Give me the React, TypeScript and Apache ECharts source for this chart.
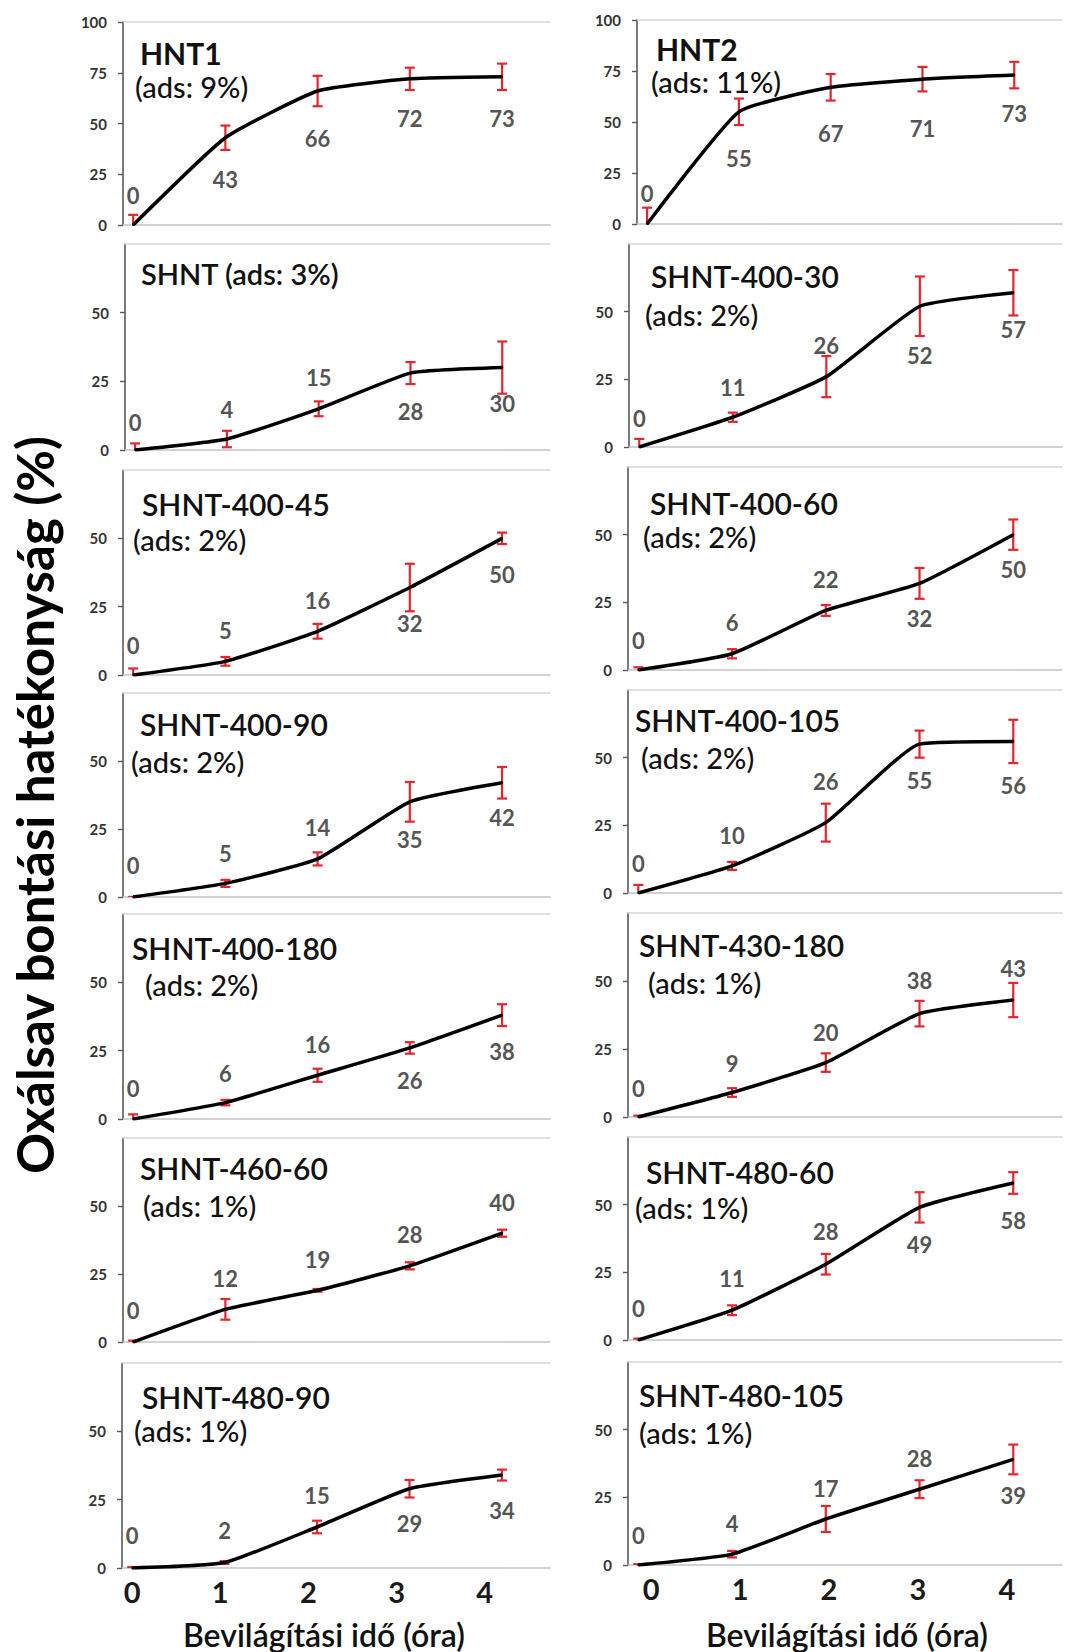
import React, { useEffect, useRef } from "react";
import * as echarts from "echarts";

// ---------- DATA ----------
const hours = [0, 1, 2, 3, 4];
const xTickValues = [0, 1, 2, 3, 4];
const yTitle = "Oxálsav bontási hatékonyság (%)";
const xTitle = "Bevilágítási idő (óra)";

const panelTitles = [
  "HNT1", "HNT2", "SHNT (ads: 3%)", "SHNT-400-30", "SHNT-400-45", "SHNT-400-60",
  "SHNT-400-90", "SHNT-400-105", "SHNT-400-180", "SHNT-430-180",
  "SHNT-460-60", "SHNT-480-60", "SHNT-480-90", "SHNT-480-105",
];
const adsLabels = [
  "(ads: 9%)", "(ads: 11%)", "", "(ads: 2%)", "(ads: 2%)", "(ads: 2%)",
  "(ads: 2%)", "(ads: 2%)", "(ads: 2%)", "(ads: 1%)",
  "(ads: 1%)", "(ads: 1%)", "(ads: 1%)", "(ads: 1%)",
];

const hnt1Values = [0, 43, 66, 72, 73];
const hnt1Errors = [5, 6, 7.5, 5.5, 6.5];
const hnt2Values = [0, 55, 67, 71, 73];
const hnt2Errors = [8, 6.5, 6.5, 6, 6.5];
const shntValues = [0, 4, 15, 28, 30];
const shntErrors = [2.4, 3, 2.7, 4, 9.5];
const s400_30Values = [0, 11, 26, 52, 57];
const s400_30Errors = [3, 1.7, 7.6, 11, 8.4];
const s400_45Values = [0, 5, 16, 32, 50];
const s400_45Errors = [2.4, 1.6, 2.7, 8.7, 2.1];
const s400_60Values = [0, 6, 22, 32, 50];
const s400_60Errors = [1, 1.7, 2, 5.7, 5.6];
const s400_90Values = [0, 5, 14, 35, 42];
const s400_90Errors = [0, 1.3, 2.4, 7.3, 5.8];
const s400_105Values = [0, 10, 26, 55, 56];
const s400_105Errors = [3, 1.5, 7, 5, 8];
const s400_180Values = [0, 6, 16, 26, 38];
const s400_180Errors = [1.7, 1, 2.4, 2.1, 4];
const s430_180Values = [0, 9, 20, 38, 43];
const s430_180Errors = [0.5, 1.6, 3.4, 4.7, 6.3];
const s460_60Values = [0, 12, 19, 28, 40];
const s460_60Errors = [0.5, 3.8, 0.5, 1.3, 1.3];
const s480_60Values = [0, 11, 28, 49, 58];
const s480_60Errors = [0.5, 1.8, 3.8, 5.6, 4];
const s480_90Values = [0, 2, 15, 29, 34];
const s480_90Errors = [0.3, 0.5, 2.3, 3.2, 2];
const s480_105Values = [0, 4, 17, 28, 39];
const s480_105Errors = [0.3, 1.2, 4.8, 3.3, 5.5];

const panelValues = [
  hnt1Values, hnt2Values, shntValues, s400_30Values, s400_45Values, s400_60Values,
  s400_90Values, s400_105Values, s400_180Values, s430_180Values,
  s460_60Values, s480_60Values, s480_90Values, s480_105Values,
];
const panelErrors = [
  hnt1Errors, hnt2Errors, shntErrors, s400_30Errors, s400_45Errors, s400_60Errors,
  s400_90Errors, s400_105Errors, s400_180Errors, s430_180Errors,
  s460_60Errors, s480_60Errors, s480_90Errors, s480_105Errors,
];
const panelMax = [100, 100, 75, 75, 75, 75, 75, 75, 75, 75, 75, 75, 75, 75];

// ---------- LAYOUT / STYLE ----------
const FONT = "Lato, 'Open Sans', sans-serif";
const RED = "#e3262e";
const W = 1065;
const H = 1652;

type PanelLayout = {
  left: number; right: number; top: number; bottom: number;
  titleX: number; titleDy: number; adsX: number; adsDy: number;
};
const L = 550;
const R = 1062;
const layout: PanelLayout[] = [
  { left: 123, right: L, top: 22, bottom: 225, titleX: 140, titleDy: 31, adsX: 135, adsDy: 64 },
  { left: 637, right: R, top: 20, bottom: 224, titleX: 656, titleDy: 29, adsX: 651, adsDy: 61 },
  { left: 125, right: L, top: 244, bottom: 450, titleX: 141, titleDy: 29, adsX: 0, adsDy: 0 },
  { left: 629, right: R, top: 244, bottom: 447, titleX: 651, titleDy: 32, adsX: 645, adsDy: 70 },
  { left: 123, right: L, top: 470, bottom: 675, titleX: 142, titleDy: 34, adsX: 133, adsDy: 69 },
  { left: 628, right: R, top: 467, bottom: 670, titleX: 650, titleDy: 36, adsX: 643, adsDy: 69 },
  { left: 123, right: L, top: 693, bottom: 897, titleX: 140, titleDy: 31, adsX: 131, adsDy: 68 },
  { left: 628, right: R, top: 690, bottom: 893, titleX: 635, titleDy: 30, adsX: 641, adsDy: 67 },
  { left: 123, right: L, top: 914, bottom: 1119, titleX: 132, titleDy: 34, adsX: 145, adsDy: 70 },
  { left: 628, right: R, top: 913, bottom: 1117, titleX: 639, titleDy: 32, adsX: 648, adsDy: 69 },
  { left: 123, right: L, top: 1138, bottom: 1342, titleX: 140, titleDy: 30, adsX: 143, adsDy: 67 },
  { left: 628, right: R, top: 1137, bottom: 1340, titleX: 646, titleDy: 35, adsX: 635, adsDy: 70 },
  { left: 122, right: L, top: 1363, bottom: 1568, titleX: 142, titleDy: 34, adsX: 134, adsDy: 67 },
  { left: 628, right: R, top: 1362, bottom: 1565, titleX: 639, titleDy: 33, adsX: 639, adsDy: 70 },
];

// vertical offset (px) of each value label from its point
const labelDy = [
  [-30, 42, 47, 40, 42],
  [-31, 47, 46, 49, 38],
  [-28, -30, -31, 38, 36],
  [-29, -30, -31, 49, 37],
  [-30, -31, -31, 36, 36],
  [-30, -31, -31, 35, 35],
  [-32, -30, -31, 38, 35],
  [-30, -30, -41, 36, 44],
  [-31, -29, -31, 33, 36],
  [-29, -29, -30, -33, -32],
  [-32, -31, -31, -31, -31],
  [-32, -32, -33, 37, 37],
  [-33, -32, -32, 35, 35],
  [-30, -31, -30, -31, 36],
];

function buildOption() {
  const grid: any[] = [];
  const xAxis: any[] = [];
  const yAxis: any[] = [];
  const series: any[] = [];
  const graphic: any[] = [];

  panelValues.forEach((vals, i) => {
    const lay = layout[i];
    grid.push({
      left: lay.left,
      top: lay.top,
      width: lay.right - lay.left,
      height: lay.bottom - lay.top,
      containLabel: false,
    });
    const mainX = xAxis.length;
    xAxis.push({
      type: "value",
      gridIndex: i,
      min: -0.11,
      max: 4.52,
      position: "bottom",
      axisLine: { show: true, onZero: false, lineStyle: { color: "#c4c4c4", width: 1.5 } },
      axisTick: { show: false },
      axisLabel: { show: false },
      splitLine: { show: false },
    });
    xAxis.push({
      type: "value",
      gridIndex: i,
      min: -0.11,
      max: 4.52,
      position: "top",
      axisLine: { show: true, onZero: false, lineStyle: { color: "#d6d6d6", width: 1.5 } },
      axisTick: { show: false },
      axisLabel: { show: false },
      splitLine: { show: false },
    });
    const isBottom = i >= 12;
    if (isBottom) {
      const leftCol = i % 2 === 0;
      xAxis.push({
        type: "value",
        gridIndex: i,
        min: leftCol ? -0.114 : -0.26,
        max: leftCol ? 4.74 : 4.62,
        position: "bottom",
        axisLine: { show: false, onZero: false },
        axisTick: { show: false, customValues: xTickValues },
        splitLine: { show: false },
        axisLabel: {
          show: true,
          customValues: xTickValues,
          formatter: (v: number) => (Number.isInteger(v) ? String(v) : ""),
          fontFamily: FONT,
          fontSize: 29,
          fontWeight: "bold",
          color: "#1a1a1a",
          margin: 9,
        },
      });
    }
    const max = panelMax[i];
    const tickVals = max === 100 ? [0, 25, 50, 75, 100] : [0, 25, 50];
    yAxis.push({
      type: "value",
      gridIndex: i,
      min: 0,
      max,
      interval: 25,
      position: "left",
      axisLine: { show: true, onZero: false, lineStyle: { color: "#595959", width: 1.6 } },
      axisTick: { show: true, length: 5, customValues: tickVals, lineStyle: { color: "#595959", width: 1.4 } },
      splitLine: { show: false },
      axisLabel: {
        show: true,
        customValues: tickVals,
        formatter: (v: number) => (max === 75 && v === 75 ? "" : String(v)),
        fontFamily: FONT,
        fontSize: 15,
        fontWeight: "bold",
        color: "#333",
        margin: 16,
      },
    });

    const errs = panelErrors[i];
    series.push({
      type: "custom",
      xAxisIndex: mainX,
      yAxisIndex: i,
      clip: true,
      z: 3,
      data: hours.map((h, k) => [h, vals[k], errs[k]]),
      encode: { x: 0, y: 1 },
      renderItem: (params: any, api: any) => {
        const x = api.value(0);
        const y = api.value(1);
        const e = api.value(2);
        const top = api.coord([x, y + e]);
        const bot = api.coord([x, y - e]);
        const hw = 5;
        const style = { stroke: RED, lineWidth: 2.2 };
        return {
          type: "group",
          children: [
            { type: "line", shape: { x1: top[0], y1: top[1], x2: bot[0], y2: bot[1] }, style },
            { type: "line", shape: { x1: top[0] - hw, y1: top[1], x2: top[0] + hw, y2: top[1] }, style },
            { type: "line", shape: { x1: bot[0] - hw, y1: bot[1], x2: bot[0] + hw, y2: bot[1] }, style },
          ],
        };
      },
    });
    series.push({
      type: "line",
      xAxisIndex: mainX,
      yAxisIndex: i,
      smooth: 0.15,
      z: 4,
      symbol: "circle",
      symbolSize: 2,
      itemStyle: { color: "#000" },
      lineStyle: { color: "#000", width: 3.5 },
      data: hours.map((h, k) => ({
        value: [h, vals[k]],
        label: { offset: [0, labelDy[i][k]] },
      })),
      label: {
        show: true,
        position: "inside",
        formatter: (p: any) => String(p.value[1]),
        fontFamily: FONT,
        fontSize: 22,
        fontWeight: "bold",
        color: "#555",
      },
    });

    // panel titles
    const isHnt = i < 2;
    const tSize = isHnt ? 30 : i === 2 ? 29 : 30;
    graphic.push({
      type: "text",
      x: lay.titleX,
      y: lay.top + lay.titleDy,
      z: 10,
      style: {
        text: panelTitles[i],
        fontFamily: FONT,
        fontSize: tSize,
        lineHeight: 28,
        fontWeight: isHnt ? 700 : 600,
        fill: "#111",
        align: "left",
        verticalAlign: "middle",
      },
    });
    if (adsLabels[i]) {
      graphic.push({
        type: "text",
        x: lay.adsX,
        y: lay.top + lay.adsDy,
        z: 10,
        style: {
          text: adsLabels[i],
          fontFamily: FONT,
          fontSize: 29,
          lineHeight: 28,
          fontWeight: 500,
          fill: "#111",
          align: "left",
          verticalAlign: "middle",
        },
      });
    }
  });

  graphic.push({
    type: "text",
    x: 34,
    y: 805,
    rotation: Math.PI / 2,
    style: {
      text: yTitle,
      fontFamily: FONT,
      fontSize: 51,
      fontWeight: "bold",
      fill: "#000",
      align: "center",
      verticalAlign: "middle",
    },
  });
  [324, 847].forEach((cx) => {
    graphic.push({
      type: "text",
      x: cx,
      y: 1634,
      style: {
        text: xTitle,
        fontFamily: FONT,
        fontSize: 32,
        fontWeight: 600,
        fill: "#111",
        align: "center",
        verticalAlign: "middle",
      },
    });
  });

  return {
    animation: false,
    backgroundColor: "#ffffff",
    grid,
    xAxis,
    yAxis,
    series,
    graphic,
  };
}

export default function App() {
  const ref = useRef<HTMLDivElement>(null);
  useEffect(() => {
    document.body.style.margin = "0";
    if (!ref.current) return;
    const chart = echarts.init(ref.current, undefined, { renderer: "svg" });
    chart.setOption(buildOption() as any);
    return () => chart.dispose();
  }, []);
  return <div ref={ref} style={{ width: W, height: H }} />;
}
